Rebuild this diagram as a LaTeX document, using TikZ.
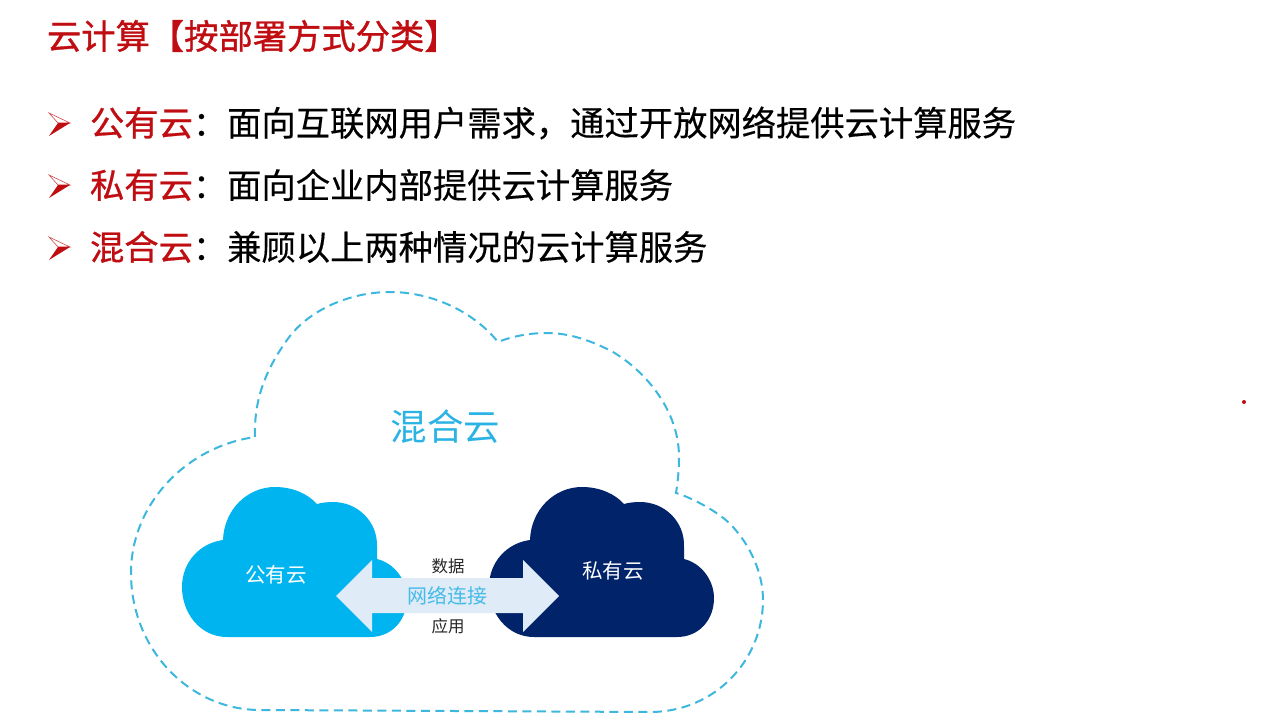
\documentclass[tikz,border=0pt]{standalone}
\usepackage{fontspec}
\setmainfont{Noto Sans CJK SC}
\newfontfamily\cjkb[FakeBold=0.3]{Noto Sans CJK SC}
\newfontfamily\cjkr[FakeBold=0.7]{Noto Sans CJK SC}
\newfontfamily\cjkt[FakeBold=1.0]{Noto Sans CJK SC}
\usetikzlibrary{arrows.meta}
\definecolor{hdred}{HTML}{C00D12}
\definecolor{dashblue}{HTML}{3DB7DD}
\definecolor{pubblue}{HTML}{00B5EF}
\definecolor{privblue}{HTML}{00236A}
\definecolor{linkfill}{HTML}{DFEBF7}
\definecolor{mixblue}{HTML}{2BB3E3}
\definecolor{linkblue}{HTML}{45BBE8}
\newcommand{\fsz}[1]{\fontsize{#1pt}{#1pt}\selectfont}
\newcommand{\cloudshape}{(227,637) .. controls (200,637) and (182,613) .. (182,587) .. controls (182,562) and (200,543) .. (223,540) .. controls (224,510) and (247,487) .. (275,487) .. controls (293,487) and (308,494) .. (317,504) .. controls (322,502.5) and (328,502) .. (333,502) .. controls (358,502) and (378,522) .. (377,547) -- (377,559) .. controls (394,563) and (407,580) .. (407,598) .. controls (407,620) and (392,637) .. (370,637) -- cycle}
\newcommand{\bulletmark}{%
  \draw[hdred!75,line width=.6pt,fill=white] (49,-10) -- (70,0) -- (58,0) -- cycle;
  \fill[hdred] (49,13) -- (70,0) -- (58,0) -- cycle;}
\tikzset{
  txt/.style={inner sep=0pt,outer sep=0pt,anchor=center},
  bodyline/.style={inner sep=0pt,outer sep=0pt,anchor=west,text=black},
  cloudlabel/.style={txt,text=white},
  smalltxt/.style={txt,text=black!85}
}
\begin{document}
\begin{tikzpicture}[x=1pt,y=-1pt]
\useasboundingbox (0,0) rectangle (1280,722);
\fill[white] (0,0) rectangle (1280,722);
% heading
\node[bodyline,text=hdred] (title) at (47,36) {\fsz{34.3}\cjkt 云计算【按部署方式分类】};
% bullets
\begin{scope}[yshift=-123pt]\bulletmark\end{scope}
\begin{scope}[yshift=-185pt]\bulletmark\end{scope}
\begin{scope}[yshift=-247pt]\bulletmark\end{scope}
\node[bodyline] (l1) at (90,123) {\fsz{34.3}\textcolor{hdred}{\cjkr 公有云}\cjkb ：面向互联网用户需求，通过开放网络提供云计算服务};
\node[bodyline] (l2) at (90,185) {\fsz{34.3}\textcolor{hdred}{\cjkr 私有云}\cjkb ：面向企业内部提供云计算服务};
\node[bodyline] (l3) at (90,247) {\fsz{34.3}\textcolor{hdred}{\cjkr 混合云}\cjkb ：兼顾以上两种情况的云计算服务};
% outer dashed cloud
\draw[dashblue,line width=2pt,dash pattern=on 9pt off 5.5pt]
  (255,437) .. controls (254,405) and (262,375) .. (287,340)
  .. controls (308,310) and (350,292) .. (390,292)
  .. controls (430,292) and (472,310) .. (498,342)
  .. controls (513,336) and (530,333) .. (547,333)
  .. controls (570,333) and (592,341) .. (613,352)
  .. controls (645,371) and (679,410) .. (679,457)
  .. controls (679,470) and (678,480) .. (676,493)
  .. controls (690,497) and (720,512) .. (733,527)
  .. controls (752,548) and (763,575) .. (763,600)
  .. controls (763,660) and (715,712) .. (650,712)
  -- (260,710)
  .. controls (190,710) and (131,650) .. (131,573)
  .. controls (131,505) and (185,447) .. (255,437) -- cycle;
\node[txt,text=mixblue] (mix) at (445.5,427) {\fsz{36.5}混合云};
% two clouds
\fill[pubblue] \cloudshape;
\begin{scope}[xshift=307pt]\fill[privblue] \cloudshape;\end{scope}
\node[cloudlabel] (pub) at (276,575) {\fsz{20.5}公有云};
\node[cloudlabel] (priv) at (613,571) {\fsz{20.5}私有云};
% link arrow
\fill[linkfill] (336,596) -- (372,560) -- (372,578) -- (523,578) -- (523,560) -- (559,596) -- (523,632) -- (523,613) -- (372,613) -- (372,632) -- cycle;
\node[txt,text=linkblue] (link) at (447.5,596) {\fsz{20}网络连接};
\node[smalltxt] (data) at (448,566) {\fsz{16.5}数据};
\node[smalltxt] (app) at (448,626) {\fsz{16.5}应用};
% pointer dot
\fill[hdred] (1244,402) circle (2);
\end{tikzpicture}
\end{document}
